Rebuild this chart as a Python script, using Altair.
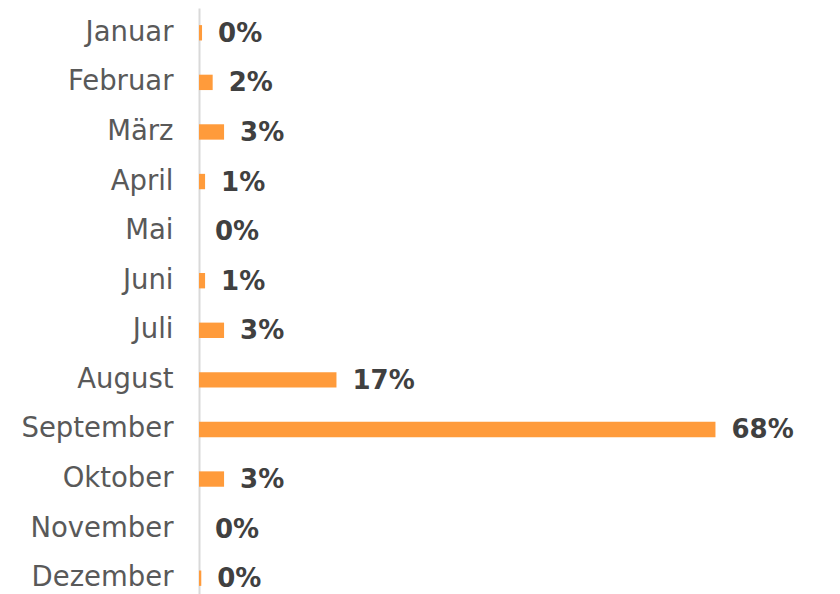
import altair as alt
import pandas as pd

months = ["Januar", "Februar", "März", "April", "Mai", "Juni", "Juli",
          "August", "September", "Oktober", "November", "Dezember"]
shares = [0.4, 1.8, 3.3, 0.8, 0.0, 0.8, 3.3, 18.1, 68.0, 3.3, 0.0, 0.3]
labels = ["0%", "2%", "3%", "1%", "0%", "1%", "3%", "17%", "68%", "3%", "0%", "0%"]

df = pd.DataFrame({"month": months, "share": shares, "label": labels})

FONT = "DejaVu Sans"

y = alt.Y("month:N", sort=months, title=None,
          scale=alt.Scale(paddingInner=0.69, paddingOuter=0.345),
          axis=alt.Axis(labelFont=FONT, labelFontSize=27.5, labelColor="#595959",
                        labelPadding=26, ticks=False, domainColor="#d9d9d9",
                        domainWidth=2, grid=False))
x = alt.X("share:Q", title=None, scale=alt.Scale(domain=[0, 79], nice=False),
          axis=None)

bars = alt.Chart(df).mark_bar(color="#FF9B3B").encode(x=x, y=y)
text = alt.Chart(df).mark_text(align="left", baseline="middle", dx=16, dy=1,
                               font=FONT, fontSize=26, fontWeight="bold",
                               color="#404040").encode(x=x, y=y, text="label:N")

chart = (bars + text).properties(
    width=600, height=595,
    autosize=alt.AutoSizeParams(type="none"),
    padding={"left": 191, "top": 0, "right": 0, "bottom": 0},
).configure_view(stroke=None)

chart.save("out.html", embed_options={"renderer": "svg", "actions": False})
